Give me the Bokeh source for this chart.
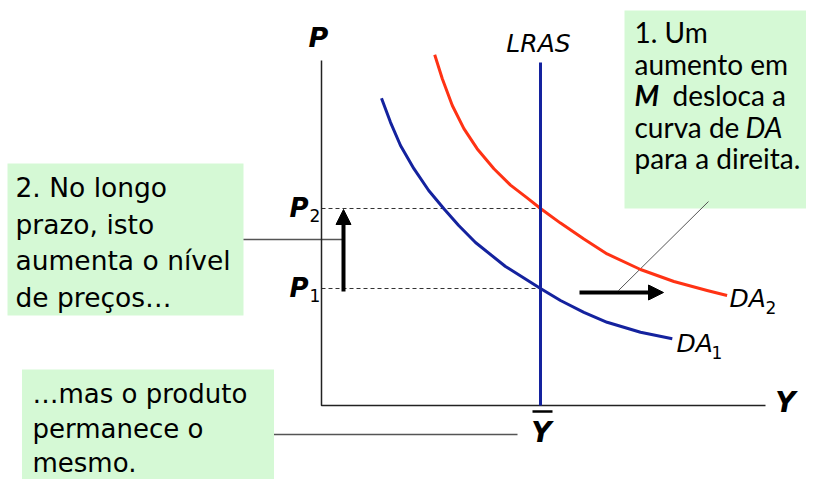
from bokeh.plotting import figure
from bokeh.models import Range1d, Arrow, NormalHead
from bokeh.core.properties import value
from bokeh.embed import file_html
from bokeh.resources import INLINE

# ---------------- data (output Y on x, price level P on y) ----------------
da1_y = [1.5, 1.725, 1.975, 2.31, 2.68, 3.06, 3.43, 3.85, 4.6, 5.475,
         5.975, 6.56, 7.14, 7.975, 8.77]
da1_p = [7.68, 7.08, 6.5, 5.92, 5.375, 4.92, 4.5, 4.075, 3.475, 2.925,
         2.625, 2.33, 2.08, 1.83, 1.67]
da2_y = [2.83, 3.02, 3.27, 3.56, 3.89, 4.31, 4.725, 5.14, 5.475, 5.975,
         6.56, 7.14, 7.975, 8.81, 9.64, 10.14]
da2_p = [8.77, 8.17, 7.5, 6.92, 6.42, 5.92, 5.51, 5.19, 4.925, 4.56,
         4.16, 3.79, 3.4, 3.1, 2.875, 2.75]
y_bar = 5.475              # natural output (LRAS)
p_levels = [2.925, 4.925]  # P1, P2
lras_top = 8.575
axis_y_max = 11.1
axis_p_max = 8.625

box1_lines = ["1. Um", "aumento em", "", "curva de ", "para a direita."]
box1_bold = "M"
box1_rest = "desloca a"
box1_ital = "DA"
box2_lines = ["2. No longo", "prazo, isto", "aumenta o nível", "de preços…"]
box3_lines = ["…mas o produto", "permanece o", "mesmo."]

# ---------------- layout (screen px of reference -> data) ----------------
W, H = 806, 479
X0, Y0, S = 321.0, 405.0, 40.0
BASE_K = 0.37  # baseline correction of the svg text renderer, in em


def dx(X):
    return (X - X0) / S


def dy(Y):
    return (Y0 - Y) / S


def ty(Y, fs):
    return dy(Y - BASE_K * fs)


p = figure(width=W, height=H, output_backend="svg", toolbar_location=None,
           x_range=Range1d(-X0 / S, (W - X0) / S),
           y_range=Range1d((Y0 - H) / S, Y0 / S),
           x_axis_location=None, y_axis_location=None, min_border=0)
p.grid.visible = False
p.outline_line_color = None
p.background_fill_color = "white"
p.border_fill_color = "white"

GREEN = "#d5f9d5"
RED = "#ff3214"
NAVY = "#14229e"

# green text boxes
p.quad(left=[dx(624), dx(7), dx(21.5)], right=[dx(830), dx(243), dx(273.5)],
       top=[dy(10), dy(163), dy(369)], bottom=[dy(208), dy(315), dy(500)],
       fill_color=GREEN, line_color=None)

# leader lines
p.segment(x0=[dx(243), dx(273.5)], y0=[dy(239), dy(434)],
          x1=[dx(343), dx(517)], y1=[dy(239), dy(434)],
          line_color="#555555", line_width=1.5)
p.segment(x0=[dx(708)], y0=[dy(201)], x1=[dx(618)], y1=[dy(290)],
          line_color="#555555", line_width=1)

# dashed price levels
p.segment(x0=[0, 0], y0=p_levels, x1=[y_bar, y_bar], y1=p_levels,
          line_color="#333333", line_width=1, line_dash="4 3")

# axes
p.line([0, 0, axis_y_max], [axis_p_max, 0, 0], line_color="#222222", line_width=1.5)

# curves
p.line(da2_y, da2_p, line_color=RED, line_width=3, line_join="round")
p.line(da1_y, da1_p, line_color=NAVY, line_width=3, line_join="round")
p.line([y_bar, y_bar], [0, lras_top], line_color=NAVY, line_width=3)

# arrows
p.add_layout(Arrow(end=NormalHead(size=15, fill_color="black", line_color="black"),
                   x_start=dx(343), y_start=p_levels[0] - 0.075,
                   x_end=dx(343), y_end=p_levels[1] - 0.025,
                   line_width=4, line_color="black"))
p.add_layout(Arrow(end=NormalHead(size=15, fill_color="black", line_color="black"),
                   x_start=dx(579), y_start=dy(292),
                   x_end=dx(663), y_end=dy(292),
                   line_width=4, line_color="black"))

DV = value("DejaVu Sans")


def label(xs, ys, texts, fs, style="normal", align="left", font=DV):
    p.text(x=[dx(v) for v in xs], y=[ty(v, fs) for v in ys], text=texts,
           text_font=font, text_font_size=f"{fs}px", text_font_style=style,
           text_align=align, text_baseline="alphabetic")


# axis labels
label([318], [47], ["P"], 27, "bold italic", "center")
label([785], [412], ["Y"], 28, "bold italic", "center")
label([541], [442], ["Y"], 28, "bold italic", "center")
p.segment(x0=[dx(532)], y0=[dy(411)], x1=[dx(552)], y1=[dy(411)],
          line_color="black", line_width=2.5)
label([538], [52], ["LRAS"], 25, "italic", "center")

# P1, P2
label([308, 308], [217, 297], ["P", "P"], 26, "bold italic", "right")
label([309, 309], [221, 301], ["2", "1"], 17)

# DA labels
label([729, 676], [307, 352], ["DA", "DA"], 25, "italic")
label([765, 711], [313, 358], ["2", "1"], 17)

# box 1 text
LT = value("Lato")
b1_base = [42, 73.5, 105, 136.5, 168]
label([634] * 5, b1_base, box1_lines, 28, font=LT)
label([634], [105], [box1_bold], 28, "bold italic", font=LT)
label([672], [105], [box1_rest], 28, font=LT)
label([745], [136.5], [box1_ital], 28, "italic", font=LT)

# box 2 and 3 text
b2_base = [197, 233.5, 270, 306.5]
label([15] * 4, b2_base, box2_lines, 26.5)
b3_base = [403, 438, 472]
label([32] * 3, b3_base, box3_lines, 26)

open("out.html", "w").write(file_html(p, INLINE))
